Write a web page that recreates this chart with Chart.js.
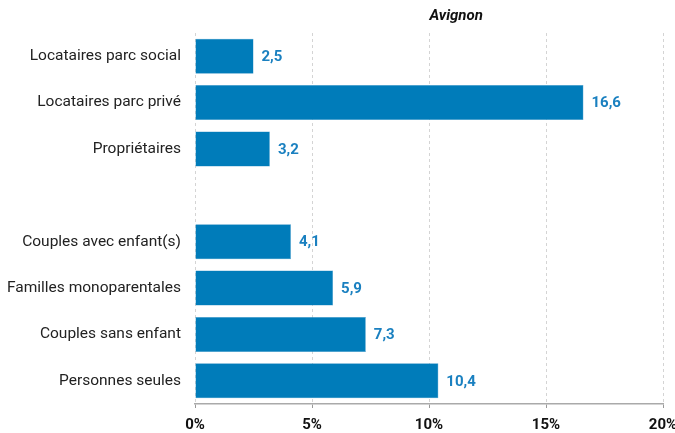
<!DOCTYPE html>
<html>
<head>
<meta charset="utf-8">
<script src="https://cdn.jsdelivr.net/npm/chart.js@4/dist/chart.umd.min.js"></script>
<style>
html,body{margin:0;padding:0;background:#fff;}
#wrap{width:675px;height:433px;position:relative;}
</style>
</head>
<body>
<div id="wrap"><canvas id="c"></canvas></div>
<script>
const categories = ["Locataires parc social","Locataires parc privé","Propriétaires","","Couples avec enfant(s)","Familles monoparentales","Couples sans enfant","Personnes seules"];
const values = [2.5, 16.6, 3.2, null, 4.1, 5.9, 7.3, 10.4];
const tickLabels = ["0%","5%","10%","15%","20%"];
const chartTitle = "Avignon";

const valueLabels = {
  id: 'valueLabels',
  afterDatasetsDraw(chart) {
    const ctx = chart.ctx;
    const meta = chart.getDatasetMeta(0);
    ctx.save();
    ctx.font = 'bold 15px Roboto';
    ctx.fillStyle = '#1a80c0';
    ctx.textBaseline = 'middle';
    ctx.textAlign = 'left';
    meta.data.forEach((bar, i) => {
      const v = values[i];
      if (v === null) return;
      ctx.fillText(v.toFixed(1).replace('.', ','), bar.x + 8, bar.y + 1);
    });
    ctx.restore();
  }
};
const titlePlugin = {
  id: 'titlePlugin',
  afterDraw(chart) {
    const ctx = chart.ctx;
    const a = chart.chartArea;
    ctx.save();
    ctx.font = 'italic bold 15px Roboto';
    ctx.fillStyle = '#111';
    ctx.textAlign = 'center';
    ctx.textBaseline = 'middle';
    ctx.fillText(chartTitle, a.left + (a.right - a.left) * 0.558, 16);
    ctx.restore();
  }
};

new Chart(document.getElementById('c'), {
  type: 'bar',
  data: {
    labels: categories,
    datasets: [{
      data: values,
      backgroundColor: '#007cba',
      borderColor: '#3a94c8',
      borderWidth: 0.5,
      barPercentage: 0.755,
      categoryPercentage: 1.0
    }]
  },
  options: {
    indexAxis: 'y',
    responsive: true,
    maintainAspectRatio: false,
    animation: false,
    layout: { padding: { top: 33, left: 7, right: 0, bottom: 1 } },
    plugins: { legend: { display: false }, tooltip: { enabled: false }, title: { display: false } },
    scales: {
      x: {
        min: 0, max: 20,
        afterFit: (s) => { s.paddingRight = 12; s.paddingLeft = 0; s.height = 28; },
        ticks: {
          stepSize: 5,
          color: '#111',
          font: { family: 'Roboto', size: 15, weight: 'bold' },
          padding: 8,
          callback: (v, i) => tickLabels[i]
        },
        grid: {
          color: '#d4d4d4',
          tickColor: '#999',
          tickLength: 4,
          tickBorderDash: [],
          drawTicks: true
        },
        border: { display: true, color: '#aaa', width: 1.5, dash: [3, 3] }
      },
      y: {
        afterFit: (s) => { s.width = 188; },
        ticks: {
          color: '#222',
          font: { family: 'Roboto', size: 15.5 },
          padding: 14
        },
        grid: { display: false, drawTicks: false },
        border: { display: false }
      }
    }
  },
  plugins: [valueLabels, titlePlugin]
});
</script>
</body>
</html>
